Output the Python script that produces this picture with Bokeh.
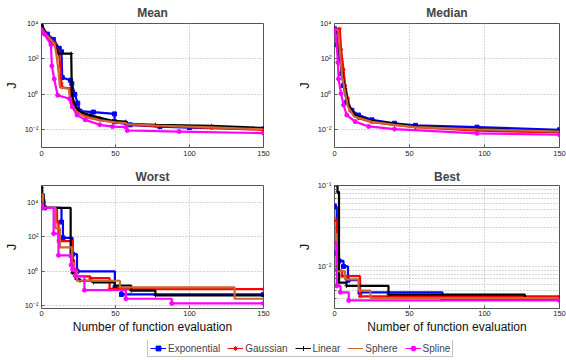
from bokeh.plotting import figure
from bokeh.layouts import column, row
from bokeh.models import Range1d, FixedTicker, CustomJSTickFormatter, Legend, LegendItem
from bokeh.embed import file_html
from bokeh.resources import INLINE

FONT = "Liberation Sans"

series_names = ["Exponential", "Gaussian", "Linear", "Sphere", "Spline"]
series_colors = ["#0000ff", "#ff0000", "#000000", "#cc6633", "#ff00ff"]
series_markers = ["square", "asterisk", "cross", "dot", "circle"]

x_ticks = [0, 50, 100, 150]
y_ticks_wide = [1e-2, 1, 1e2, 1e4]
y_ticks_best = [1e-2, 1e-1]
y_minor_best = [0.004, 0.005, 0.006, 0.007, 0.008, 0.009,
                0.02, 0.03, 0.04, 0.05, 0.06, 0.07, 0.08, 0.09]

# ---------------- Mean ----------------
mean_exp_x = [0, 4, 8, 12, 13.5, 14, 19.5, 20.5, 22.5, 24.5, 26, 35, 49.3, 49.5, 60, 80, 100, 150]
mean_exp_y = [6310, 2512, 1259, 398, 251, 8.9, 6.3, 4.0, 1.0, 0.316, 0.112, 0.100, 0.079, 0.0282, 0.0191, 0.0151, 0.0132, 0.0112]
mean_gau_x = [0, 5, 9, 11.7, 12.8, 13.5, 14, 19.5, 20.6, 24, 30.7, 39.5, 50, 57, 58, 77, 115, 150]
mean_gau_y = [5012, 1585, 794, 224, 39.8, 3.98, 2.51, 2.14, 0.316, 0.126, 0.055, 0.0363, 0.0269, 0.024, 0.0191, 0.0166, 0.0126, 0.0100]
mean_lin_x = [0, 5.3, 9.8, 11.3, 20.1, 20.5, 22.5, 26, 33, 39.5, 48, 57, 58, 77, 115, 150]
mean_lin_y = [8913, 1259, 501, 200, 200, 1.0, 0.251, 0.100, 0.0676, 0.0468, 0.0316, 0.0288, 0.0214, 0.0191, 0.0166, 0.0126]
mean_sph_x = [0, 5, 9, 10.5, 11.5, 12.5, 18.5, 19.5, 23, 30, 40, 50, 57, 58, 77, 115, 150]
mean_sph_y = [5012, 1585, 631, 100, 20, 2.51, 2.0, 0.316, 0.112, 0.0501, 0.0339, 0.0263, 0.024, 0.0209, 0.0174, 0.0138, 0.0107]
mean_spl_x = [0, 2, 6.4, 7, 8.6, 10.9, 19, 20.8, 24, 29.6, 39.4, 48, 57, 58, 93, 150]
mean_spl_y = [4467, 2512, 631, 39.8, 7.41, 0.891, 0.562, 0.200, 0.0676, 0.0363, 0.0191, 0.0151, 0.0141, 0.00912, 0.00794, 0.00646]

# ---------------- Median ----------------
median_exp_x = [0, 1, 1.6, 3.8, 4.9, 6, 8.2, 11.6, 16, 25, 40, 54, 95, 150]
median_exp_y = [5012, 3981, 631, 100, 14.8, 3.16, 0.372, 0.126, 0.0676, 0.0363, 0.0234, 0.0178, 0.0141, 0.0100]
median_gau_x = [0, 3.5, 4.4, 6, 7.1, 8.9, 10.4, 16, 25, 40, 54, 95, 150]
median_gau_y = [5012, 5012, 347, 25.1, 3.16, 0.575, 0.126, 0.0447, 0.0269, 0.0191, 0.0141, 0.00891, 0.00708]
median_lin_x = [0, 2, 2.7, 4.9, 7.1, 9.3, 13.8, 25, 40, 54, 95, 150]
median_lin_y = [5012, 3162, 501, 17.4, 2.14, 0.251, 0.0676, 0.0316, 0.0214, 0.0158, 0.0112, 0.00794]
median_sph_x = [0, 2.5, 3.5, 5, 7, 9, 13, 25, 40, 54, 95, 150]
median_sph_y = [5012, 3981, 316, 12.6, 1.26, 0.200, 0.0562, 0.0282, 0.0191, 0.0141, 0.0105, 0.00794]
median_spl_x = [0, 1, 2.3, 2.7, 4.4, 6, 8.2, 13.8, 22.7, 40, 95, 150]
median_spl_y = [4467, 1995, 63.1, 7.41, 1.10, 0.251, 0.0676, 0.0288, 0.0155, 0.0110, 0.00631, 0.00525]

# ---------------- Worst ----------------
worst_exp_x = [0, 1, 2, 13.5, 14.5, 21, 24, 49.6, 54, 150]
worst_exp_y = [25119, 11749, 5012, 741, 89.1, 10.0, 1.0, 0.100, 0.0447, 0.0447]
worst_gau_x = [0, 1, 10.5, 11.5, 21, 22, 24, 33, 46, 150]
worst_gau_y = [15849, 5012, 794, 57.5, 4.47, 1.26, 0.501, 0.398, 0.0912, 0.0912]
worst_lin_x = [0, 0.5, 1.5, 19.7, 20.8, 22.5, 23.6, 26, 35, 49.5, 60.6, 77, 150]
worst_lin_y = [79433, 31623, 5012, 6.76, 0.794, 0.501, 0.347, 0.282, 0.224, 0.148, 0.0741, 0.0398, 0.0398]
worst_sph_x = [0, 1, 9.5, 12.5, 20.5, 22, 24, 53, 130.5, 150]
worst_sph_y = [31623, 5012, 316, 25.1, 3.16, 1.0, 0.282, 0.115, 0.0251, 0.0251]
worst_spl_x = [0, 1, 8.2, 11.5, 20, 21, 23, 29, 57, 88, 150]
worst_spl_y = [7943, 5012, 158, 8.51, 2.34, 1.26, 0.525, 0.0794, 0.0251, 0.0135, 0.0135]

# ---------------- Best ----------------
best_exp_x = [0, 1.5, 3, 6, 9, 17, 72, 150]
best_exp_y = [0.055, 0.0145, 0.0117, 0.0100, 0.00676, 0.00479, 0.00398, 0.00398]
best_gau_x = [0, 1.5, 5, 17, 150]
best_gau_y = [0.0372, 0.00891, 0.00759, 0.00427, 0.00427]
best_lin_x = [0, 2, 3, 8, 36, 127, 150]
best_lin_y = [0.100, 0.0832, 0.00631, 0.00575, 0.00447, 0.00407, 0.00407]
best_sph_x = [0, 1.5, 7, 16, 24, 150]
best_sph_y = [0.0251, 0.00871, 0.00692, 0.00501, 0.00407, 0.00407]
best_spl_x = [0, 1.5, 4, 9.5, 150]
best_spl_y = [0.0195, 0.00575, 0.00479, 0.0038, 0.0038]

SUP_JS = """
const e = Math.round(Math.log10(tick));
const m = {"-":"\u207b","0":"\u2070","1":"\u00b9","2":"\u00b2","3":"\u00b3","4":"\u2074","5":"\u2075","6":"\u2076","7":"\u2077","8":"\u2078","9":"\u2079"};
let s = "";
for (const c of String(e)) { s += m[c]; }
return "10" + s;
"""


def panel(title, h, bl, br, bt, bb, yr, yticks, yminor, series, kind, xlabel, tstand):
    p = figure(width=283, height=h, y_axis_type="log",
               x_range=Range1d(0, 150), y_range=Range1d(*yr),
               toolbar_location=None, output_backend="svg",
               min_border_left=bl, min_border_right=br,
               min_border_top=bt, min_border_bottom=bb)
    p.title.text = title
    p.title.text_font = FONT
    p.title.text_font_size = "12px"
    p.title.text_font_style = "bold"
    p.title.align = "center"
    p.title.standoff = tstand
    p.outline_line_color = "#555555"
    p.background_fill_color = "white"
    p.border_fill_color = "white"

    p.xaxis.ticker = FixedTicker(ticks=x_ticks)
    p.yaxis.ticker = FixedTicker(ticks=yticks, minor_ticks=yminor)
    p.yaxis.formatter = CustomJSTickFormatter(code=SUP_JS)
    for ax in (p.xaxis, p.yaxis):
        ax.axis_line_color = None
        ax.major_tick_in = 3
        ax.major_tick_out = 0
        ax.major_tick_line_color = "#555555"
        ax.minor_tick_in = 2
        ax.minor_tick_out = 0
        ax.minor_tick_line_color = "#555555" if yminor else None
        ax.major_label_text_font = FONT
        ax.major_label_text_font_size = "7.5px"
        ax.major_label_text_color = "#222222"
        ax.major_label_standoff = 3
        ax.axis_label_text_font = FONT
        ax.axis_label_text_font_size = "12px"
        ax.axis_label_text_font_style = "normal"
        ax.axis_label_text_color = "#111111"
    p.xaxis.minor_tick_line_color = None
    p.yaxis.axis_label = "J"
    p.yaxis.axis_label_text_font_size = "13px"
    p.yaxis.axis_label_standoff = 3
    if xlabel:
        p.xaxis.axis_label = xlabel
        p.xaxis.axis_label_standoff = 1
        p.xaxis.major_label_standoff = 2

    for g in (p.xgrid, p.ygrid):
        g.grid_line_color = "#aaaaaa"
        g.grid_line_dash = "1 2"
        g.grid_line_width = 1
    if yminor:
        p.ygrid.minor_grid_line_color = "#aaaaaa"
        p.ygrid.minor_grid_line_dash = "1 2"

    for (xs, ys), c, m in zip(series, series_colors, series_markers):
        if kind == "step":
            p.step(xs, ys, mode="after", line_color=c, line_width=2.2)
        else:
            p.line(xs, ys, line_color=c, line_width=2.2)
        p.scatter(xs, ys, marker=m, size=4, line_color=c, fill_color=c)
    return p


p_mean = panel("Mean", 165, 37, 20, 22, 18, (1e-3, 1e4), y_ticks_wide, [],
               [(mean_exp_x, mean_exp_y), (mean_gau_x, mean_gau_y), (mean_lin_x, mean_lin_y),
                (mean_sph_x, mean_sph_y), (mean_spl_x, mean_spl_y)], "line", None, 7)
p_median = panel("Median", 165, 51, 7, 22, 18, (1e-3, 1e4), y_ticks_wide, [],
                 [(median_exp_x, median_exp_y), (median_gau_x, median_gau_y), (median_lin_x, median_lin_y),
                  (median_sph_x, median_sph_y), (median_spl_x, median_spl_y)], "line", None, 7)
p_worst = panel("Worst", 175, 37, 20, 18, 28, (0.0068, 1e5), y_ticks_wide, [],
                [(worst_exp_x, worst_exp_y), (worst_gau_x, worst_gau_y), (worst_lin_x, worst_lin_y),
                 (worst_sph_x, worst_sph_y), (worst_spl_x, worst_spl_y)], "step",
                "Number of function evaluation", 4)
p_best = panel("Best", 175, 51, 7, 18, 32, (0.00302, 0.1), y_ticks_best, y_minor_best,
               [(best_exp_x, best_exp_y), (best_gau_x, best_gau_y), (best_lin_x, best_lin_y),
                (best_sph_x, best_sph_y), (best_spl_x, best_spl_y)], "step",
               "Number of function evaluation", 4)

lf = figure(width=566, height=20, x_range=Range1d(0, 1), y_range=Range1d(0, 1),
            toolbar_location=None, output_backend="svg",
            x_axis_location=None, y_axis_location=None, min_border=0)
lf.grid.visible = False
lf.outline_line_color = None
items = []
for name, c, m in zip(series_names, series_colors, series_markers):
    r1 = lf.line(x=[-5, -4], y=[-5, -4], line_color=c, line_width=1)
    r2 = lf.scatter(x=[-5], y=[-5], marker=m, size=4, line_color=c, fill_color=c)
    items.append(LegendItem(label=name, renderers=[r1, r2]))
leg = Legend(items=items, orientation="horizontal", location=(147, 3),
             label_text_font=FONT, label_text_font_size="10px",
             glyph_width=16, glyph_height=12, label_height=12, label_standoff=2,
             spacing=7, padding=2, margin=0, border_line_color="#888888",
             background_fill_color="white", background_fill_alpha=1.0)
lf.add_layout(leg, "center")

layout = column(row(p_mean, p_median), row(p_worst, p_best), lf)

open("out.html", "w").write(file_html(layout, INLINE))
